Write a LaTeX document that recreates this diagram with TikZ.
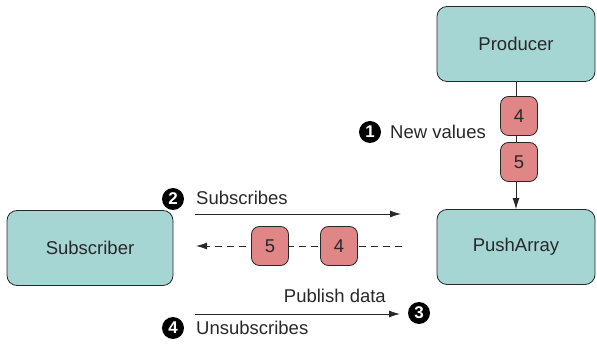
\documentclass[tikz,border=0pt]{standalone}
\usepackage{fontspec}
\setmainfont{Liberation Sans}
\usetikzlibrary{arrows.meta}
\definecolor{boxfill}{RGB}{166,214,212}
\definecolor{chipfill}{RGB}{224,134,134}
\definecolor{inkgray}{RGB}{40,40,40}
\begin{document}
\begin{tikzpicture}[x=1pt,y=-1pt,
        BoxStyle/.style={draw=inkgray, fill=boxfill, rounded corners=10pt,
          line width=0.8pt, minimum width=158pt, minimum height=75pt,
          font=\fontsize{18.5}{22}\selectfont, text=inkgray},
        ChipStyle/.style={draw=inkgray, fill=chipfill, rounded corners=8pt,
          line width=0.8pt, minimum width=37pt, minimum height=39pt,
          font=\fontsize{18.5}{22}\selectfont, text=inkgray},
        StepStyle/.style={circle, fill=black, text=white, inner sep=0pt,
          minimum size=22pt, font=\fontsize{17}{19}\bfseries\selectfont},
        LabelStyle/.style={font=\fontsize{18.5}{22}\selectfont, text=inkgray, inner sep=0pt},
        EdgeStyle/.style={draw=inkgray, line width=0.8pt, -{Latex[length=11pt,width=7pt]}}]
        \useasboundingbox (0,0) rectangle (597,344);
        \node[BoxStyle] (Producer) at (516,44) {Producer};
        \node[BoxStyle] (PushArray) at (516,247) {PushArray};
        \node[BoxStyle, minimum width=166pt] (Subscriber) at (90,248) {Subscriber};
        \draw[EdgeStyle] (Producer.south) -- (PushArray.north);
        \node[ChipStyle] (ValA) at (519,116) {4};
        \node[ChipStyle] (ValB) at (519,162) {5};
        % new values
        \node[StepStyle] (StepA) at (370,132) {1};
        \node[LabelStyle, anchor=west] (NewValues) at (390,132) {New values};
        % subscribe
        \node[StepStyle] (StepB) at (173,199) {2};
        \node[LabelStyle, anchor=west] (Subscribes) at (196,198) {Subscribes};
        \coordinate (SubFrom) at (195,214);
        \coordinate (SubTo) at (401,214);
        \draw[EdgeStyle] (SubFrom) -- (SubTo);
        % data stream
        \coordinate (DataFrom) at (402,246);
        \coordinate (DataTo) at (196,246);
        \draw[EdgeStyle, dashed, dash pattern=on 7pt off 5pt] (DataFrom) -- (DataTo);
        \node[ChipStyle] (DataB) at (270,246) {5};
        \node[ChipStyle] (DataA) at (339,246) {4};
        % publish
        \node[LabelStyle, anchor=east] (Publish) at (386,296) {Publish data};
        \coordinate (PubFrom) at (195,314);
        \coordinate (PubTo) at (400,314);
        \draw[EdgeStyle] (PubFrom) -- (PubTo);
        \node[StepStyle] (StepC) at (419,313) {3};
        % unsubscribe
        \node[StepStyle] (StepD) at (173,328) {4};
        \node[LabelStyle, anchor=west] (Unsubscribes) at (196,328) {Unsubscribes};
    \end{tikzpicture}
\end{document}
